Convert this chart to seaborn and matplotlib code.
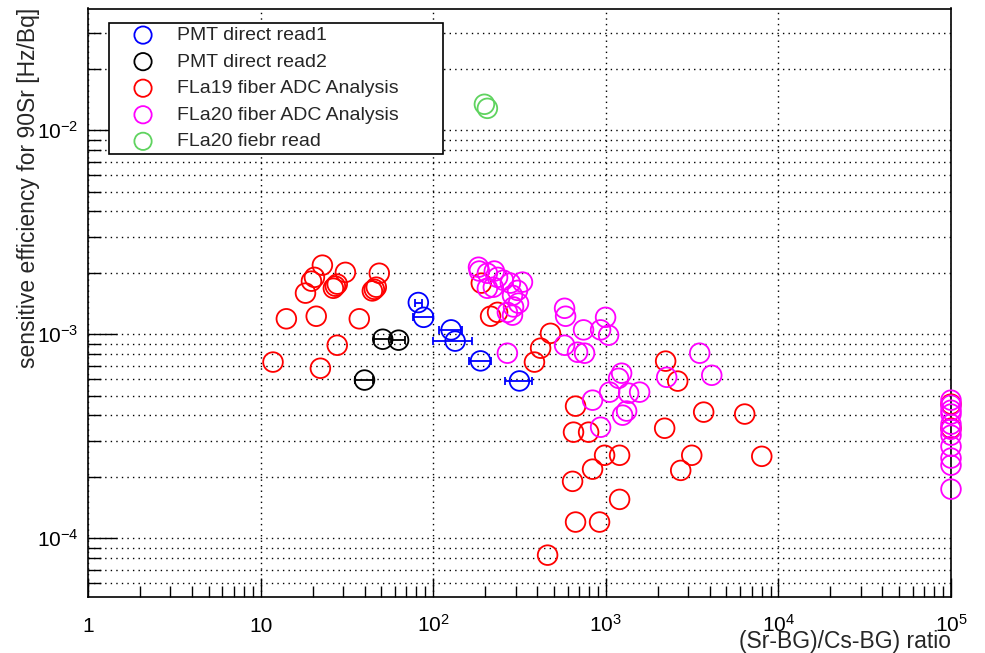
import numpy as np
import pandas as pd
import matplotlib
matplotlib.use("Agg")
import matplotlib.pyplot as plt
import seaborn as sns
from matplotlib.ticker import LogLocator, NullFormatter

# ---------------- data ----------------
series_names = ["PMT direct read1", "PMT direct read2", "FLa19 fiber ADC Analysis",
                "FLa20 fiber ADC Analysis", "FLa20 fiebr read"]

pmt1_ratio = [82, 88, 127, 134, 188, 316]
pmt1_eff = [1.43e-3, 1.21e-3, 1.05e-3, 9.25e-4, 7.4e-4, 5.9e-4]
pmt1_ratio_err = [4, 12, 19, 34, 27, 56]

pmt2_ratio = [40, 51, 63]
pmt2_eff = [5.96e-4, 9.45e-4, 9.35e-4]
pmt2_ratio_err = [4.8, 5.7, 5.5]

fla19_ratio = [11.8, 14.1, 18.2, 20.5, 19.7, 21.0, 22.8, 22.2, 27.8, 26.4, 27.1, 27.8,
               31.0, 37.3, 44.4, 45.6, 46.8, 48.7, 190, 215, 236, 478, 419, 386,
               2222, 2610, 668, 3690, 6380, 650, 795, 2193, 984, 1202, 838, 642,
               3147, 2716, 8010, 1202, 668, 920, 460, 1e5, 1e5]
fla19_eff = [7.30e-4, 1.19e-3, 1.59e-3, 1.90e-3, 1.82e-3, 1.225e-3, 2.18e-3, 6.81e-4,
             8.83e-4, 1.68e-3, 1.72e-3, 1.76e-3, 2.01e-3, 1.19e-3, 1.63e-3, 1.66e-3,
             1.70e-3, 1.99e-3, 1.78e-3, 1.225e-3, 1.28e-3, 1.01e-3, 8.54e-4, 7.30e-4,
             7.38e-4, 5.89e-4, 4.44e-4, 4.15e-4, 4.06e-4, 3.31e-4, 3.31e-4, 3.46e-4,
             2.55e-4, 2.55e-4, 2.18e-4, 1.90e-4, 2.55e-4, 2.15e-4, 2.52e-4, 1.55e-4,
             1.20e-4, 1.20e-4, 8.26e-5, 4.54e-4, 3.46e-4]

fla20_ratio = [183, 185, 206, 226, 236, 255, 280, 329, 308, 288, 206, 223, 292, 312,
               269, 288, 269, 577, 585, 743, 933, 997, 1038, 577, 686, 753, 3500,
               1235, 1187, 2253, 4110, 1052, 1356, 1570, 838, 1320, 1251, 933,
               1e5, 1e5, 1e5, 1e5, 1e5, 1e5, 1e5, 1e5, 1e5, 1e5, 1e5]
fla20_eff = [2.13e-3, 2.04e-3, 1.99e-3, 2.04e-3, 1.90e-3, 1.84e-3, 1.78e-3, 1.80e-3,
             1.64e-3, 1.55e-3, 1.68e-3, 1.70e-3, 1.36e-3, 1.42e-3, 1.28e-3, 1.24e-3,
             8.07e-4, 1.34e-3, 1.225e-3, 1.05e-3, 1.05e-3, 1.21e-3, 9.89e-4, 8.83e-4,
             8.16e-4, 8.07e-4, 8.07e-4, 6.44e-4, 6.08e-4, 6.15e-4, 6.29e-4, 5.20e-4,
             5.14e-4, 5.20e-4, 4.75e-4, 4.20e-4, 4.01e-4, 3.50e-4,
             4.75e-4, 4.49e-4, 4.24e-4, 4.06e-4, 3.62e-4, 3.42e-4, 3.20e-4, 2.82e-4,
             2.47e-4, 2.28e-4, 1.74e-4]

fla20read_ratio = [198, 206]
fla20read_eff = [0.0134, 0.0128]

xtick_values = [1, 10, 100, 1e3, 1e4, 1e5]
xtick_labels = ["1", "10", "$10^{2}$", "$10^{3}$", "$10^{4}$", "$10^{5}$"]
ytick_values = [1e-4, 1e-3, 1e-2]
ytick_labels = ["$10^{-4}$", "$10^{-3}$", "$10^{-2}$"]

x_title = "(Sr-BG)/Cs-BG) ratio"
y_title = "sensitive efficiency for 90Sr [Hz/Bq]"

# ---------------- style ----------------
sns.set_style("ticks")
plt.rcParams["font.family"] = ["Liberation Sans", "DejaVu Sans"]
plt.rcParams["mathtext.fontset"] = "custom"
plt.rcParams["mathtext.rm"] = "Liberation Sans"
plt.rcParams["mathtext.it"] = "Liberation Sans:italic"
plt.rcParams["mathtext.bf"] = "Liberation Sans:bold"
plt.rcParams["mathtext.default"] = "regular"

colors = ["#0000ff", "#000000", "#ff0000", "#ff00ff", "#5fd35f"]

frames = []
for name, xs, ys in zip(series_names,
                        [pmt1_ratio, pmt2_ratio, fla19_ratio, fla20_ratio, fla20read_ratio],
                        [pmt1_eff, pmt2_eff, fla19_eff, fla20_eff, fla20read_eff]):
    frames.append(pd.DataFrame({"ratio": xs, "eff": ys, "series": name}))
df = pd.concat(frames, ignore_index=True)

fig = plt.figure(figsize=(9.85, 6.53), dpi=100)
ax = fig.add_axes([88 / 985, 56 / 653, 863 / 985, 588.5 / 653])
ax.set_xscale("log")
ax.set_yscale("log")

# error bars for PMT readings
ax.errorbar(pmt1_ratio, pmt1_eff, xerr=pmt1_ratio_err, fmt="none", ecolor=colors[0],
            elinewidth=1.3, capsize=3, capthick=1.3, label="_nolegend_", zorder=3)
ax.errorbar(pmt2_ratio, pmt2_eff, xerr=pmt2_ratio_err, fmt="none", ecolor=colors[1],
            elinewidth=1.3, capsize=3, capthick=1.3, label="_nolegend_", zorder=3)

for name, col in zip(series_names, colors):
    sub = df[df["series"] == name]
    sns.scatterplot(data=sub, x="ratio", y="eff", ax=ax, marker="o", s=200,
                    facecolor="none", edgecolor=col, color=col, linewidth=1.3,
                    label=name, legend=False, clip_on=False, zorder=4)

ax.set_xlim(1, 1e5)
ax.set_ylim(5.15e-5, 0.0395)

ax.set_xticks(xtick_values)
ax.set_xticklabels(xtick_labels)
ax.xaxis.set_minor_locator(LogLocator(base=10, subs=np.arange(2, 10), numticks=20))
ax.xaxis.set_minor_formatter(NullFormatter())
ax.set_yticks(ytick_values)
ax.set_yticklabels(ytick_labels)
ax.yaxis.set_minor_locator(LogLocator(base=10, subs=np.arange(2, 10), numticks=20))
ax.yaxis.set_minor_formatter(NullFormatter())

ax.tick_params(which="both", direction="in", top=False, right=False, colors="black",
               width=1.0, labelsize=15)
ax.tick_params(axis="x", which="major", length=14, pad=25)
ax.tick_params(axis="x", which="minor", length=8)
ax.tick_params(axis="y", which="major", length=21, pad=7)
ax.tick_params(axis="y", which="minor", length=9.5)
for lbl in ax.get_xticklabels():
    lbl.set_verticalalignment("baseline")

dot = (0, (1, 3))
ax.grid(True, which="both", axis="y", color="black", linestyle=dot, linewidth=1.0)
ax.grid(True, which="major", axis="x", color="black", linestyle=dot, linewidth=1.0)
ax.set_axisbelow(True)

for sp in ax.spines.values():
    sp.set_color("black")
    sp.set_linewidth(1.2)

ax.set_xlabel(x_title, fontsize=16.5)
ax.xaxis.label.set(ha="right", va="baseline")
ax.xaxis.set_label_coords(1.0, (597 - 648) / 588.5)

ax.set_ylabel(y_title, fontsize=16.5)
ax.yaxis.label.set_rotation_mode("anchor")
ax.yaxis.label.set(ha="right", va="center")
ax.yaxis.set_label_coords((29 - 88) / 863, (597 - 8) / 588.5)

handles, labels = ax.get_legend_handles_labels()
leg_top = 1 - 22.7 / 653
leg = ax.legend(handles, labels, loc="upper left",
                bbox_to_anchor=(109 / 985, leg_top - 0.3, (443 - 109) / 985, 0.3),
                bbox_transform=fig.transFigure, mode="expand", borderaxespad=0,
                fontsize=14, borderpad=0.2, handlelength=3.1, handletextpad=0.21,
                labelspacing=0.46, frameon=True, fancybox=False, edgecolor="black",
                framealpha=1, scatterpoints=1, markerscale=0.88)
leg.get_frame().set_linewidth(1.2)
leg.set_zorder(10)

fig.savefig("out.png", dpi=100)
